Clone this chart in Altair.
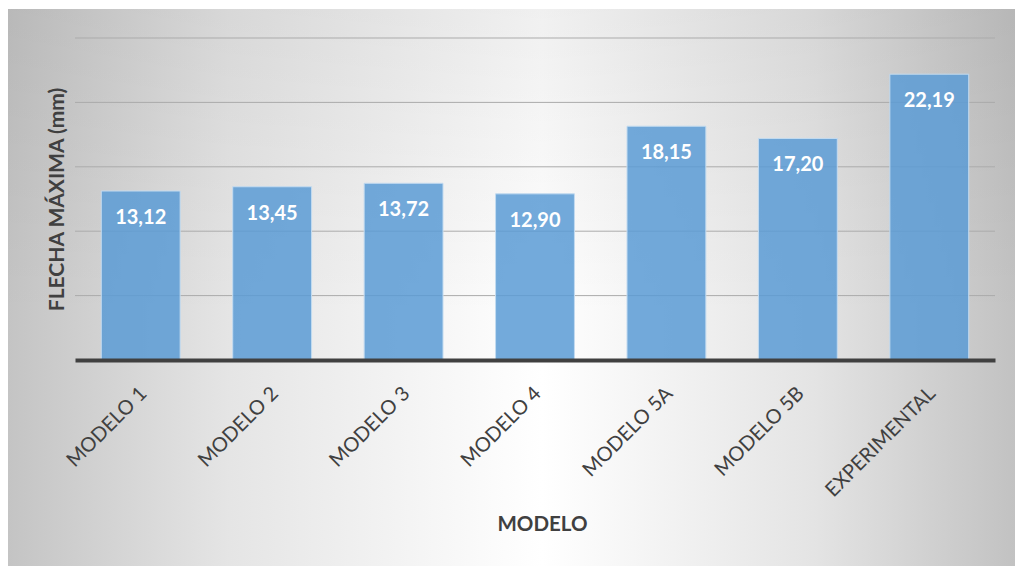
import altair as alt
import pandas as pd

modelos = ["MODELO 1", "MODELO 2", "MODELO 3", "MODELO 4", "MODELO 5A", "MODELO 5B", "EXPERIMENTAL"]
flecha = [13.12, 13.45, 13.72, 12.90, 18.15, 17.20, 22.19]
y_ticks = [5, 10, 15, 20, 25]

df = pd.DataFrame({"modelo": modelos, "flecha": flecha})
df["etiqueta"] = [f"{v:.2f}".replace(".", ",") for v in flecha]
grid_df = pd.DataFrame({"flecha": y_ticks})

FONT = "Lato"
W, H = 920, 322
PL, PT = 75, 38

# background panel (gradient, like the spreadsheet chart area)
h_grad = alt.LinearGradient(
    gradient="linear",
    stops=[
        alt.GradientStop(color="#c4c4c4", offset=0),
        alt.GradientStop(color="#e5e5e5", offset=0.22),
        alt.GradientStop(color="#ffffff", offset=0.53),
        alt.GradientStop(color="#e4e4e4", offset=0.8),
        alt.GradientStop(color="#c2c2c2", offset=1),
    ],
    x1=0, x2=1, y1=0, y2=0,
)
v_grad = alt.LinearGradient(
    gradient="linear",
    stops=[
        alt.GradientStop(color="rgba(0,0,0,0.06)", offset=0),
        alt.GradientStop(color="rgba(0,0,0,0)", offset=0.55),
        alt.GradientStop(color="rgba(0,0,0,0)", offset=1),
    ],
    x1=0, x2=0, y1=0, y2=1,
)
one = pd.DataFrame({"a": [0]})
bg_pos = dict(x=alt.value(8 - PL), x2=alt.value(1015 - PL), y=alt.value(9 - PT), y2=alt.value(566 - PT))
bg1 = alt.Chart(one).mark_rect(color=h_grad).encode(**bg_pos)
bg2 = alt.Chart(one).mark_rect(color=v_grad).encode(**bg_pos)

y_scale = alt.Scale(domain=[0, 25], nice=False)
y_axis = alt.Axis(
    labels=False, ticks=False, domain=False, grid=False, zindex=1,
    title="FLECHA MÁXIMA (mm)",
    titleFont=FONT, titleFontSize=21, titleFontWeight="bold", titleColor="#404040",
    titleX=57 - PL, titleY=H / 2, titleAngle=-90, titleBaseline="middle", titleAlign="center",
)
y_enc = alt.Y("flecha:Q", scale=y_scale, axis=y_axis)

grid = alt.Chart(grid_df).mark_rule(color="#ababab", strokeWidth=1).encode(y=y_enc)

x_enc = alt.X(
    "modelo:N",
    sort=modelos,
    scale=alt.Scale(paddingInner=0.4, paddingOuter=0.2),
    axis=alt.Axis(
        title="MODELO", zindex=1,
        titleFont=FONT, titleFontSize=20.5, titleFontWeight="bold", titleColor="#404040",
        titleX=542 - PL, titleY=524 - (PT + H), titleBaseline="middle", titleAlign="center",
        labelAngle=-45, labelFont=FONT, labelFontSize=20, labelColor="#404040",
        labelPadding=23, labelOffset=-4, ticks=False, tickSize=0,
        domainColor="#404040", domainWidth=4, grid=False,
    ),
)

bars = alt.Chart(df).mark_bar(
    color="#5b9bd5", fillOpacity=0.85, stroke="#c3dbf0", strokeWidth=1
).encode(x=x_enc, y=y_enc)

labels = alt.Chart(df).mark_text(
    color="white", font=FONT, fontSize=20, fontWeight="bold", baseline="middle", dy=27
).encode(x=x_enc, y=y_enc, text="etiqueta:N")

chart = (
    alt.layer(bg1, bg2, grid, bars, labels)
    .properties(
        width=W, height=H,
        autosize=alt.AutoSizeParams(type="none"),
        padding={"left": PL, "top": PT, "right": 1019 - PL - W, "bottom": 568 - PT - H},
        background="white",
    )
    .configure_view(stroke=None)
)

chart.save("out.html", embed_options={"renderer": "svg", "actions": False})
